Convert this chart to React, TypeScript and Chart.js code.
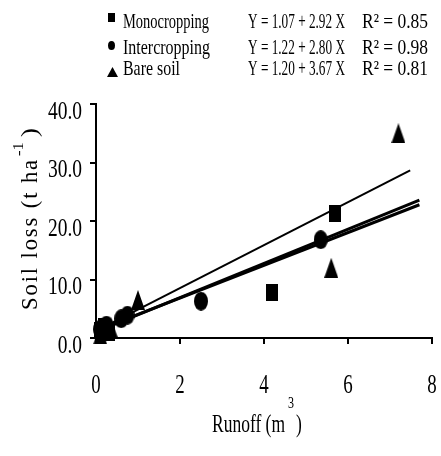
import React, { useEffect, useRef } from "react";
import { Chart, registerables } from "chart.js";

Chart.register(...registerables);

const monoX = [0.1, 0.2, 0.3, 4.2, 5.7];
const monoY = [1.2, 2.0, 1.0, 7.8, 21.2];
const interX = [0.1, 0.25, 0.6, 0.75, 2.5, 5.35];
const interY = [1.5, 2.2, 3.3, 3.9, 6.3, 16.8];
const bareX = [0.1, 0.35, 1.0, 5.6, 7.2];
const bareY = [0.6, 1.8, 6.5, 12.0, 35.0];

const monoFit = { a: 1.07, b: 2.92, x0: 0.1, x1: 7.7 };
const interFit = { a: 1.22, b: 2.8, x0: 0.1, x1: 7.7 };
const bareFit = { a: 1.2, b: 3.67, x0: 0.1, x1: 7.48 };

const legendNames = ["Monocropping", "Intercropping", "Bare soil"];
const legendEqs = ["Y = 1.07 + 2.92 X", "Y = 1.22 + 2.80 X", "Y = 1.20 + 3.67 X"];
const legendR2 = ["R² = 0.85", "R² = 0.98", "R² = 0.81"];
const legendStyles = ["rect", "circle", "triangle"];

const xTicks = [0, 2, 4, 6, 8];
const yTicks = [0, 10, 20, 30, 40];
const xTitle = "Runoff (m";
const xTitleSup = "3";
const yTitle = "Soil loss (t ha";
const yTitleSup = "-1";

const FONT = "'Liberation Serif', 'DejaVu Serif', serif";

const zip = (xs: number[], ys: number[]) => xs.map((x, i) => ({ x, y: ys[i] }));
const fitLine = (f: { a: number; b: number; x0: number; x1: number }) => [
  { x: f.x0, y: f.a + f.b * f.x0 },
  { x: f.x1, y: f.a + f.b * f.x1 },
];

function makeMarker(kind: string, w: number, h: number) {
  const c = document.createElement("canvas");
  c.width = w;
  c.height = h;
  const g = c.getContext("2d")!;
  g.fillStyle = "#000";
  g.beginPath();
  if (kind === "rect") g.rect(0, 0, w, h);
  else if (kind === "circle") g.ellipse(w / 2, h / 2, w / 2, h / 2, 0, 0, Math.PI * 2);
  else {
    g.moveTo(w / 2, 0);
    g.lineTo(w, h);
    g.lineTo(0, h);
    g.closePath();
  }
  g.fill();
  return c;
}

function txt(ctx: any, s: string, x: number, y: number, size: number, sx: number, align = "left", base = "alphabetic") {
  ctx.save();
  ctx.font = `${size}px ${FONT}`;
  ctx.textAlign = align;
  ctx.textBaseline = base;
  ctx.translate(x, y);
  ctx.scale(sx, 1);
  ctx.fillText(s, 0, 0);
  ctx.restore();
}

function txtFit(ctx: any, s: string, x: number, y: number, size: number, width: number) {
  ctx.save();
  ctx.font = `${size}px ${FONT}`;
  const w = ctx.measureText(s).width;
  ctx.restore();
  txt(ctx, s, x, y, size, width / w);
}

const textPlugin = {
  id: "customText",
  afterDraw(chart: any) {
    const ctx = chart.ctx;
    ctx.save();
    ctx.fillStyle = "#000";

    // legend
    const base = [28, 54, 75];
    const mk = [
      { x: 108, y: 13, w: 7, h: 9 },
      { x: 108, y: 41, w: 7, h: 9 },
      { x: 107, y: 67, w: 11, h: 10 },
    ];
    base.forEach((b, i) => {
      const m = mk[i];
      ctx.beginPath();
      if (legendStyles[i] === "rect") ctx.rect(m.x, m.y, m.w, m.h);
      else if (legendStyles[i] === "circle")
        ctx.ellipse(m.x + m.w / 2, m.y + m.h / 2, m.w / 2, m.h / 2, 0, 0, Math.PI * 2);
      else {
        ctx.moveTo(m.x + m.w / 2, m.y);
        ctx.lineTo(m.x + m.w, m.y + m.h);
        ctx.lineTo(m.x, m.y + m.h);
        ctx.closePath();
      }
      ctx.fill();
      txtFit(ctx, legendNames[i], 123, b, 21, [86, 87, 57][i]);
      txtFit(ctx, legendEqs[i], 248, b, 21, 97);
      txtFit(ctx, legendR2[i], 362, b, 21, 66);
    });

    // tick labels
    const xs = chart.scales.x;
    const ys = chart.scales.y;
    xTicks.forEach((v) => {
      txt(ctx, String(v), xs.getPixelForValue(v), 386, 27, 0.7, "center", "middle");
    });
    yTicks.forEach((v) => {
      txt(ctx, v.toFixed(1), 82, ys.getPixelForValue(v) + 8, 25, 0.78, "right", "middle");
    });

    // x title
    ctx.font = `26px ${FONT}`;
    const wMain = ctx.measureText(xTitle).width;
    const sxT = 73 / wMain;
    txt(ctx, xTitle, 212, 432, 26, sxT);
    txt(ctx, xTitleSup, 288, 408, 16, 0.75);
    txt(ctx, ")", 296, 432, 26, sxT);

    // y title (rotated)
    ctx.save();
    ctx.translate(37, 310);
    ctx.rotate(-Math.PI / 2);
    ctx.font = `24px ${FONT}`;
    (ctx as any).letterSpacing = "2px";
    const wy = ctx.measureText(yTitle).width;
    const syT = 152 / wy;
    ctx.save();
    ctx.scale(syT, 1);
    ctx.textAlign = "left";
    ctx.textBaseline = "alphabetic";
    ctx.fillText(yTitle, 0, 0);
    ctx.restore();
    (ctx as any).letterSpacing = "0px";
    ctx.save();
    ctx.translate(154, -14);
    ctx.scale(1.1, 1);
    ctx.font = `15px ${FONT}`;
    ctx.fillText(yTitleSup, 0, 0);
    ctx.restore();
    ctx.save();
    ctx.translate(173, 0);
    ctx.scale(1.1, 1);
    ctx.font = `24px ${FONT}`;
    ctx.fillText(")", 0, 0);
    ctx.restore();
    ctx.restore();

    ctx.restore();
  },
};

export default function App() {
  const ref = useRef<HTMLCanvasElement>(null);
  useEffect(() => {
    document.body.style.margin = "0";
    const sq = makeMarker("rect", 12, 17);
    const ci = makeMarker("circle", 14, 19);
    const tr = makeMarker("triangle", 14, 20);
    const chart = new Chart(ref.current!, {
      type: "scatter",
      data: {
        datasets: [
          {
            type: "line",
            label: "Mono fit",
            data: fitLine(monoFit),
            showLine: true,
            pointRadius: 0,
            borderColor: "#000",
            borderWidth: 3,
          },
          {
            type: "line",
            label: "Inter fit",
            data: fitLine(interFit),
            showLine: true,
            pointRadius: 0,
            borderColor: "#000",
            borderWidth: 3,
          },
          {
            type: "line",
            label: "Bare fit",
            data: fitLine(bareFit),
            showLine: true,
            pointRadius: 0,
            borderColor: "#000",
            borderWidth: 2,
          },
          {
            label: "Monocropping",
            data: zip(monoX, monoY),
            pointStyle: sq,
            pointRadius: 8,
            backgroundColor: "#000",
            borderColor: "#000",
          },
          {
            label: "Intercropping",
            data: zip(interX, interY),
            pointStyle: ci,
            pointRadius: 8,
            backgroundColor: "#000",
            borderColor: "#000",
          },
          {
            label: "Bare soil",
            data: zip(bareX, bareY),
            pointStyle: tr,
            pointRadius: 8,
            backgroundColor: "#000",
            borderColor: "#000",
          },
        ] as any,
      },
      options: {
        animation: false,
        responsive: false,
        clip: false,
        layout: { padding: { top: 104, right: 8, left: 0, bottom: 0 } },
        plugins: { legend: { display: false }, tooltip: { enabled: false } },
        scales: {
          x: {
            type: "linear",
            min: 0,
            max: 8,
            afterFit: (s: any) => {
              s.height = 118;
              s.paddingLeft = 0;
              s.paddingRight = 0;
            },
            afterBuildTicks: (s: any) => {
              s.ticks = xTicks.map((v) => ({ value: v }));
            },
            border: { color: "#000", width: 2 },
            grid: { drawOnChartArea: false, color: "#000", tickLength: 6, lineWidth: 2 },
            ticks: { display: false },
            title: { display: false },
          },
          y: {
            type: "linear",
            min: 0,
            max: 40,
            afterFit: (s: any) => {
              s.width = 96;
              s.paddingTop = 0;
              s.paddingBottom = 0;
            },
            afterBuildTicks: (s: any) => {
              s.ticks = yTicks.map((v) => ({ value: v }));
            },
            border: { color: "#000", width: 2 },
            grid: { drawOnChartArea: false, color: "#000", tickLength: 6, lineWidth: 2 },
            ticks: { display: false },
            title: { display: false },
          },
        },
      },
      plugins: [textPlugin],
    } as any);
    return () => chart.destroy();
  }, []);
  return <canvas ref={ref} width={441} height={456} style={{ display: "block" }} />;
}
